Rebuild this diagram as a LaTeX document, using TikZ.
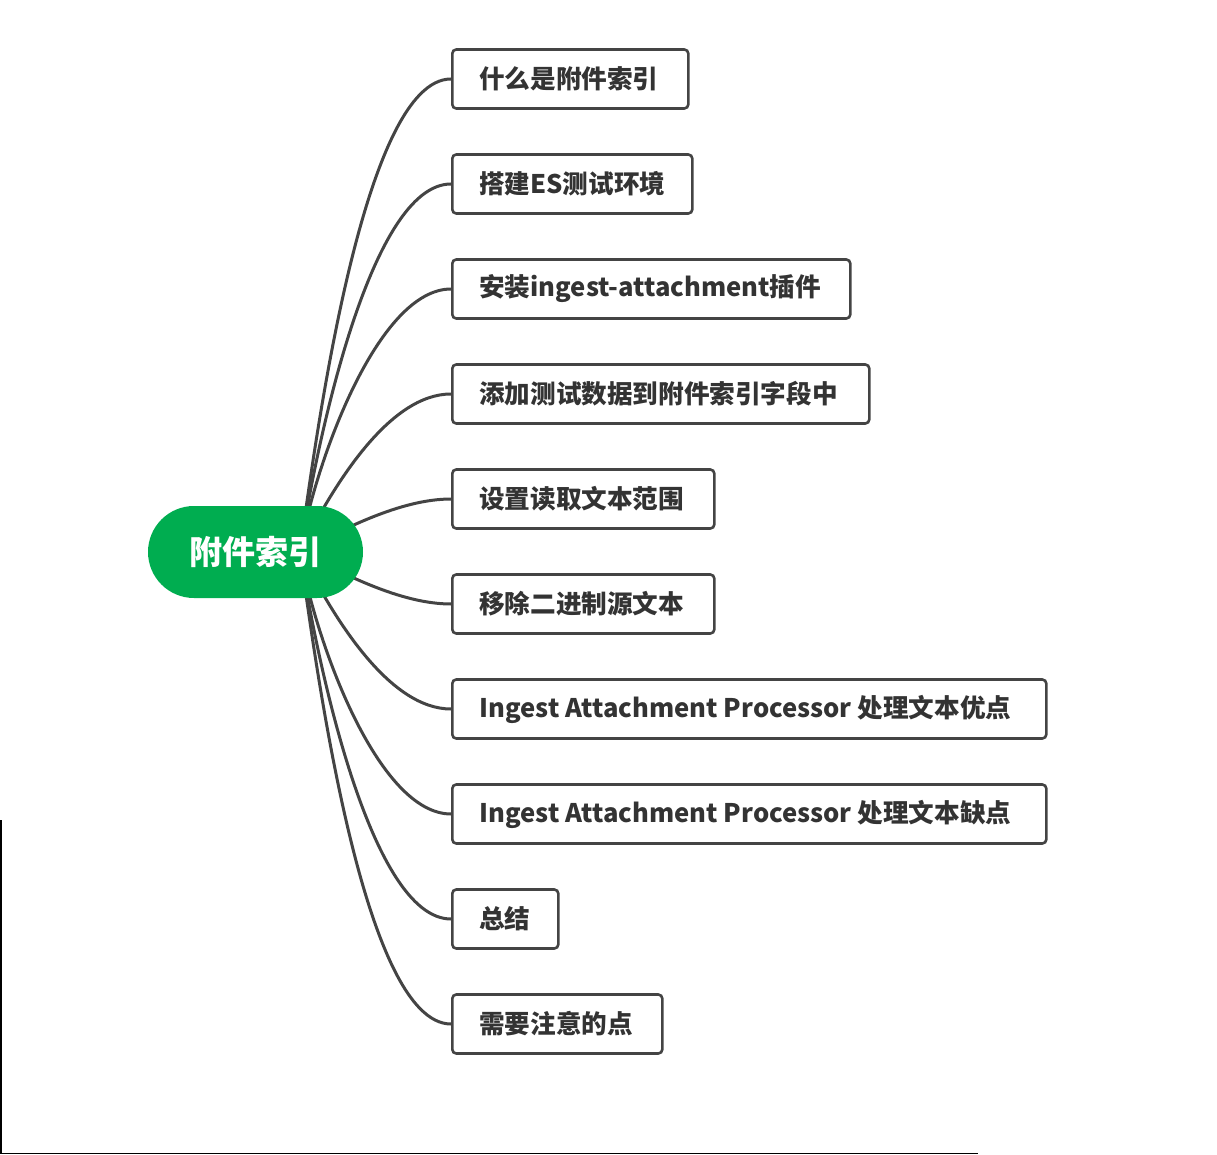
\documentclass[tikz,border=0pt]{standalone}
\usepackage{fontspec}
\setmainfont{Noto Sans CJK SC}
\usetikzlibrary{calc}
\pgfdeclarelayer{background}
\pgfsetlayers{background,main}
\definecolor{linegray}{RGB}{68,68,68}
\definecolor{textgray}{RGB}{51,51,51}
\definecolor{rootgreen}{RGB}{0,173,80}
\begin{document}
\begin{tikzpicture}[x=1pt,y=-1pt,
  topic/.style={draw=linegray, line width=2.6pt, rounded corners=4pt, fill=white,
    anchor=west, minimum height=59pt, inner xsep=27pt, inner ysep=0pt,
    execute at begin node={\hbox to #1\bgroup},
    execute at end node={\hfil\egroup},
    text=textgray, font=\bfseries\fontsize{25.6}{30}\selectfont},
  rootnode/.style={fill=rootgreen, rounded corners=46pt, minimum width=215pt,
    minimum height=92pt, inner sep=0pt, text=white,
    font=\bfseries\fontsize{33}{38}\selectfont},
  branch/.style={draw=linegray, line width=3pt},
  edge/.style={draw=black, line width=1.6pt}]
\useasboundingbox (0,0) rectangle (1217,1155);

% central topic
\node[rootnode] (root) at (255.5,552) {附件索引};
\coordinate (hub) at (300,551.5);

% subtopics
\node[topic=182pt] (t1)  at (451,79)   {什么是附件索引};
\node[topic=186pt] (t2)  at (451,184)  {搭建ES测试环境};
\node[topic=344pt] (t3)  at (451,289)  {安装ingest-attachment插件};
\node[topic=363pt] (t4)  at (451,394)  {添加测试数据到附件索引字段中};
\node[topic=208pt] (t5)  at (451,499)  {设置读取文本范围};
\node[topic=208pt] (t6)  at (451,604)  {移除二进制源文本};
\node[topic=540pt] (t7)  at (451,709)  {Ingest Attachment Processor 处理文本优点};
\node[topic=540pt] (t8)  at (451,814)  {Ingest Attachment Processor 处理文本缺点};
\node[topic=52pt]  (t9)  at (451,919)  {总结};
\node[topic=156pt] (t10) at (451,1024) {需要注意的点};

% curved branches from the central topic
\begin{pgfonlayer}{background}
\draw[branch] (hub) .. controls (318,420) and (365,79)   .. (t1.west);
\draw[branch] (hub) .. controls (316,445) and (370,184)  .. (t2.west);
\draw[branch] (hub) .. controls (315,462) and (378,289)  .. (t3.west);
\draw[branch] (hub) .. controls (335,482) and (390,394)  .. (t4.west);
\draw[branch] (hub) .. controls (342,530) and (400,499)  .. (t5.west);
\draw[branch] (hub) .. controls (342,573) and (400,604)  .. (t6.west);
\draw[branch] (hub) .. controls (335,621) and (390,709)  .. (t7.west);
\draw[branch] (hub) .. controls (315,641) and (378,814)  .. (t8.west);
\draw[branch] (hub) .. controls (316,658) and (370,919)  .. (t9.west);
\draw[branch] (hub) .. controls (318,683) and (365,1024) .. (t10.west);
\end{pgfonlayer}

% frame edges along the left and bottom
\coordinate (fl) at (0.8,820);
\coordinate (fc) at (0.8,1153.5);
\coordinate (fr) at (978,1153.5);
\draw[edge] (fl) -- (fc) -- (fr);
\end{tikzpicture}
\end{document}
